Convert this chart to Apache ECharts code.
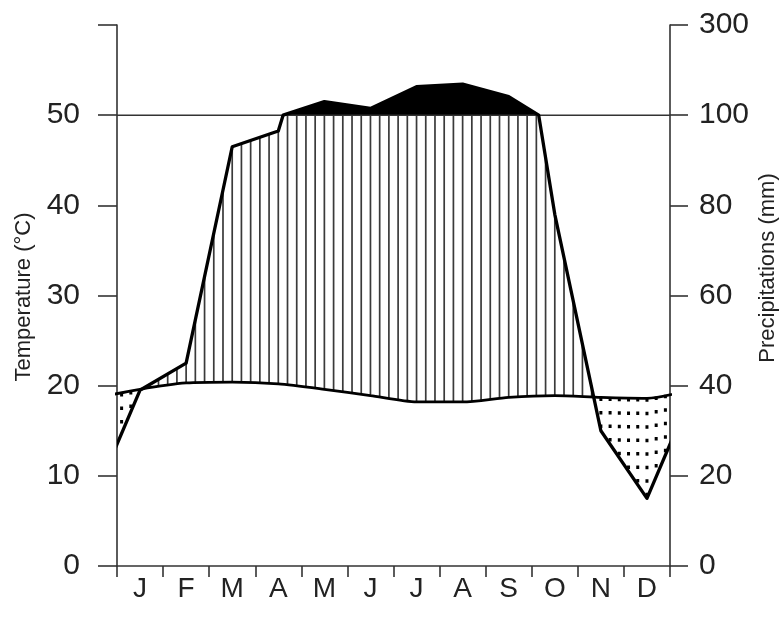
<!DOCTYPE html>
<html>
<head>
<meta charset="utf-8">
<script src="https://cdn.jsdelivr.net/npm/echarts@6/dist/echarts.min.js"></script>
<style>
  html, body { margin: 0; padding: 0; background: #ffffff; }
  #chart { width: 782px; height: 626px; }
</style>
</head>
<body>
<div id="chart"></div>
<script>
// Monthly climate normals (Walter–Lieth style diagram)
const months = ['J', 'F', 'M', 'A', 'M', 'J', 'J', 'A', 'S', 'O', 'N', 'D'];
const temperature = [19.6, 20.3, 20.4, 20.2, 19.6, 18.9, 18.2, 18.2, 18.7, 18.9, 18.7, 18.6]; // °C
const precipitation = [39, 45, 93, 96.5, 130, 115, 163, 169, 141, 78, 30, 15];           // mm
const tempTickLabels = ['0', '10', '20', '30', '40', '50', ''];
const precTickLabels = ['0', '20', '40', '60', '80', '100', '300'];

const FONT = '"Liberation Sans", Arial, Helvetica, sans-serif';
const INK = '#222222';
const AXIS = '#333333';

// Precipitation drawn on the temperature scale: 2 mm = 1 °C up to 100 mm,
// above that the scale is compressed ten times (20 mm = 1 °C).
const toTempScale = p => (p <= 100 ? p / 2 : 50 + (p - 100) / 20);

// Wrap the year around: December before January, January after December.
function wrapped(arr) { return [arr[arr.length - 1]].concat(arr, [arr[0]]); }
const xPos = wrapped(months).map((_, i) => i - 0.5);      // month centres on a 0..12 axis
const tWrap = wrapped(temperature);
const pWrap = wrapped(precipitation);

// Build the piecewise-linear profile used for the fills and the rain curve.
function buildProfile() {
  const X = [], P = [], T = [];
  for (let i = 0; i < xPos.length; i++) {
    X.push(xPos[i]); P.push(pWrap[i]); T.push(tWrap[i]);
    if (i < xPos.length - 1) {
      const p0 = pWrap[i], p1 = pWrap[i + 1];
      if ((p0 - 100) * (p1 - 100) < 0) {
        // the rain curve bends where it changes scale at 100 mm
        const f = (100 - p0) / (p1 - p0);
        X.push(xPos[i] + f * (xPos[i + 1] - xPos[i]));
        P.push(100);
        T.push(tWrap[i] + f * (tWrap[i + 1] - tWrap[i]));
      }
    }
  }
  const S = P.map(toTempScale);
  // add the points where rain and temperature curves intersect
  const X2 = [], S2 = [], T2 = [];
  for (let i = 0; i < X.length; i++) {
    X2.push(X[i]); S2.push(S[i]); T2.push(T[i]);
    if (i < X.length - 1) {
      const d0 = S[i] - T[i], d1 = S[i + 1] - T[i + 1];
      if (d0 * d1 < 0) {
        const f = d0 / (d0 - d1);
        X2.push(X[i] + f * (X[i + 1] - X[i]));
        const y = S[i] + f * (S[i + 1] - S[i]);
        S2.push(y); T2.push(y);
      }
    }
  }
  return { X: X2, S: S2, T: T2 };
}
const profile = buildProfile();

function sampleAt(x) {
  const { X, S, T } = profile;
  for (let i = 0; i < X.length - 1; i++) {
    if (x >= X[i] && x <= X[i + 1]) {
      const f = (x - X[i]) / (X[i + 1] - X[i]);
      return { s: S[i] + f * (S[i + 1] - S[i]), t: T[i] + f * (T[i + 1] - T[i]) };
    }
  }
  return { s: S[S.length - 1], t: T[T.length - 1] };
}

function renderClimate(params, api) {
  const children = [];
  const c = (x, y) => api.coord([x, y]);

  // humid season: vertical hatching; dry season: dotted verticals
  for (let k = 0; k < 60; k++) {
    const x = 0.1 + 0.2 * k;
    const v = sampleAt(x);
    if (v.s > v.t) {
      const top = Math.min(v.s, 50);
      const a = c(x, v.t), b = c(x, top);
      children.push({
        type: 'line',
        shape: { x1: a[0], y1: a[1], x2: b[0], y2: b[1] },
        style: { stroke: '#3a3a3a', lineWidth: 1.7 }
      });
    } else if (v.t > v.s) {
      const a = c(x, v.t), b = c(x, v.s);
      children.push({
        type: 'line',
        shape: { x1: a[0], y1: a[1], x2: b[0], y2: b[1] },
        style: { stroke: '#000000', lineWidth: 3, lineDash: [3.5, 10], lineCap: 'butt' }
      });
    }
  }

  // very wet months: black area above 100 mm
  const { X, S } = profile;
  const blk = [];
  for (let i = 0; i < X.length; i++) blk.push(c(X[i], Math.max(S[i], 50)));
  blk.push(c(X[X.length - 1], 50));
  blk.push(c(X[0], 50));
  children.push({ type: 'polygon', shape: { points: blk }, style: { fill: '#000000' } });

  // 100 mm reference line
  const l0 = c(0, 50), l1 = c(12, 50);
  children.push({
    type: 'line',
    shape: { x1: l0[0], y1: l0[1], x2: l1[0], y2: l1[1] },
    style: { stroke: AXIS, lineWidth: 1.5 }
  });

  // precipitation curve
  const rain = X.map((x, i) => c(x, S[i]));
  children.push({
    type: 'polyline',
    shape: { points: rain },
    style: { stroke: '#000000', lineWidth: 3.3, fill: null, lineJoin: 'round' }
  });

  return { type: 'group', children };
}

const chart = echarts.init(document.getElementById('chart'), null, { renderer: 'canvas' });

const axisLineStyle = { color: AXIS, width: 1.6 };
const labelStyle = { fontSize: 30, color: INK, fontFamily: FONT };

chart.setOption({
  backgroundColor: '#ffffff',
  animation: false,
  grid: { left: 117, right: 112, top: 25, bottom: 60, containLabel: false },
  xAxis: [
    {
      type: 'category',
      data: months,
      boundaryGap: true,
      axisLine: { show: true, lineStyle: axisLineStyle },
      axisTick: { show: true, length: 11, lineStyle: axisLineStyle },
      axisLabel: Object.assign({}, labelStyle, { margin: 9, fontSize: 28 }),
      splitLine: { show: false }
    },
    { type: 'value', min: 0, max: 12, show: false }
  ],
  yAxis: [
    {
      type: 'value', position: 'left', min: 0, max: 60, interval: 10,
      axisLine: { show: true, onZero: false, lineStyle: axisLineStyle },
      axisTick: { show: true, length: 19, lineStyle: axisLineStyle },
      axisLabel: Object.assign({ margin: 37, formatter: (v, i) => tempTickLabels[i] }, labelStyle),
      splitLine: { show: false }
    },
    {
      type: 'value', position: 'right', min: 0, max: 60, interval: 10,
      axisLine: { show: true, onZero: false, lineStyle: axisLineStyle },
      axisTick: { show: true, length: 18, lineStyle: axisLineStyle },
      axisLabel: Object.assign({ margin: 29, formatter: (v, i) => precTickLabels[i] }, labelStyle),
      splitLine: { show: false }
    }
  ],
  graphic: [
    {
      type: 'text', x: 24, y: 297, rotation: Math.PI / 2,
      style: { text: 'Temperature (°C)', fontSize: 22, fontFamily: FONT, fill: INK, align: 'center', verticalAlign: 'middle' }
    },
    {
      type: 'text', x: 768, y: 268, rotation: Math.PI / 2,
      style: { text: 'Precipitations (mm)', fontSize: 22, fontFamily: FONT, fill: INK, align: 'center', verticalAlign: 'middle' }
    }
  ],
  series: [
    {
      type: 'custom',
      xAxisIndex: 1,
      yAxisIndex: 0,
      clip: true,
      silent: true,
      data: [[0, 0]],
      renderItem: renderClimate,
      z: 2
    },
    {
      type: 'line',
      name: 'Temperature',
      xAxisIndex: 1,
      yAxisIndex: 0,
      data: xPos.map((x, i) => [x, tWrap[i]]),
      smooth: 0.25,
      symbol: 'none',
      clip: true,
      silent: true,
      lineStyle: { color: '#000000', width: 2.8 },
      z: 3
    }
  ]
});
</script>
</body>
</html>
